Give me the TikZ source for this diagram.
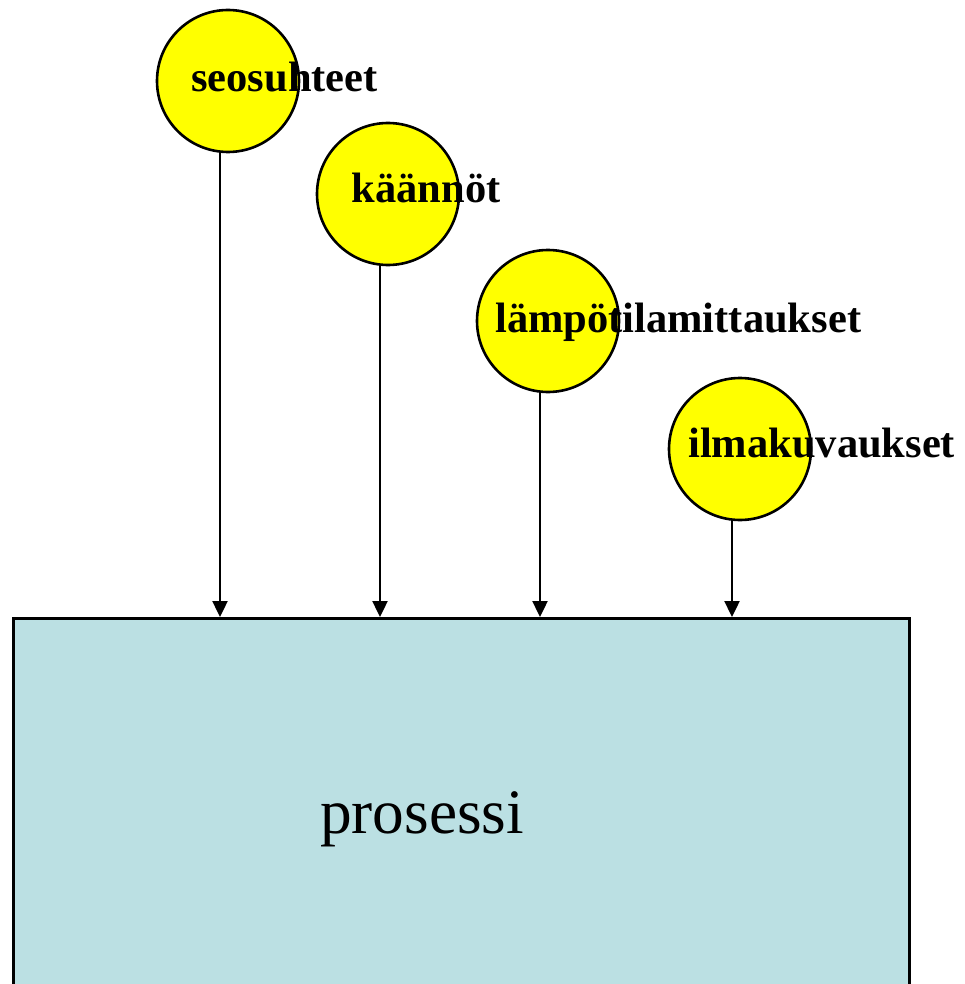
\documentclass[tikz,border=0pt]{standalone}
\usepackage{fontspec}
\setmainfont{Liberation Serif}
\usetikzlibrary{arrows.meta}
\definecolor{boxfill}{RGB}{187,224,227}
\definecolor{ballfill}{RGB}{255,255,0}
\tikzset{
  ball/.style={circle, draw=black, line width=2.6pt, fill=ballfill, minimum size=142pt, inner sep=0pt},
  lbl/.style={anchor=base west, inner sep=0pt, font=\fontsize{42.5}{50}\selectfont\bfseries},
  arr/.style={line width=2.4pt, -{Triangle[length=16pt, width=15pt]}},
  procbox/.style={draw=black, line width=3.2pt, fill=boxfill, anchor=north west, minimum width=896pt, minimum height=420pt, inner sep=0pt},
}
\begin{document}
\begin{tikzpicture}[x=1pt, y=-1pt]
\useasboundingbox (0,0) rectangle (964,984);
\clip (0,0) rectangle (964,984);
\node[procbox] (box) at (11.5,617) {};
\node[anchor=base west, inner sep=0pt, font=\fontsize{63.3}{70}\selectfont] (proc) at (320,833) {prosessi};
\node[ball] (c1) at (228,81) {};
\node[ball] (c2) at (388,194) {};
\node[ball] (c3) at (548,321) {};
\node[ball] (c4) at (740,449) {};
\node[lbl] (t1) at (191,92) {seosuhteet};
\node[lbl] (t2) at (351.5,203) {käännöt};
\node[lbl] (t3) at (495,332) {lämpötilamittaukset};
\node[lbl] (t4) at (688,457) {ilmakuvaukset};
\foreach \c in {c1,c2,c3,c4}{
  \draw[arr] ([xshift=-8pt]\c.south) -- ([xshift=-8pt]\c.south |- box.north);
}
\end{tikzpicture}
\end{document}
